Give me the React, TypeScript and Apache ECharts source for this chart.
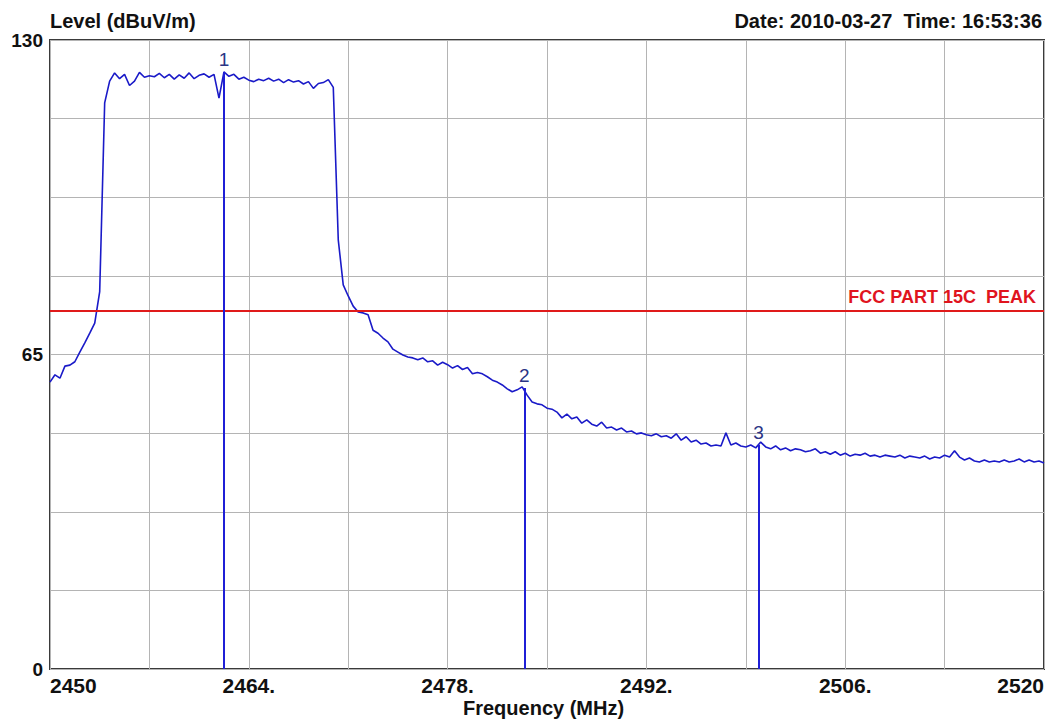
import React, { useEffect, useRef } from "react";
import * as echarts from "echarts";

// Sweep: start frequency and step (MHz) of the measured trace
const freqStart = 2450;
const freqStep = 0.35;

// Measured level (dBuV/m) at each sweep point
const levels: number[] = [
  59.3, 60.8, 60.1, 62.6, 62.8, 63.5, 65.5, 67.4, 69.4, 71.5,
  78.0, 117.0, 121.5, 123.2, 122.0, 122.9, 120.6, 121.5, 123.3, 122.3,
  122.6, 122.4, 123.1, 122.2, 122.9, 121.9, 122.8, 122.1, 123.2, 122.0,
  122.7, 123.0, 122.3, 122.9, 118.0, 123.4, 122.5, 122.9, 121.9, 122.3,
  121.7, 121.4, 121.9, 121.6, 122.1, 121.5, 121.9, 121.2, 121.8, 121.3,
  121.6, 120.9, 121.4, 120.0, 121.0, 121.2, 121.8, 120.2, 88.7, 79.4,
  77.1, 75.0, 73.8, 73.6, 73.2, 70.0, 69.4, 68.4, 67.6, 66.1,
  65.5, 64.9, 64.5, 64.3, 63.9, 64.3, 63.5, 63.7, 62.8, 63.4,
  62.9, 62.2, 62.7, 61.9, 62.3, 61.0, 61.3, 61.0, 60.4, 59.7,
  59.3, 58.7, 57.9, 57.3, 57.7, 58.3, 56.6, 55.2, 54.8, 54.6,
  53.9, 53.7, 53.1, 51.9, 52.7, 51.7, 52.1, 50.8, 51.5, 50.6,
  50.2, 51.0, 49.8, 50.0, 49.4, 49.8, 49.0, 49.2, 48.6, 48.8,
  48.4, 48.2, 48.6, 48.0, 48.2, 47.7, 48.6, 47.3, 48.0, 46.9,
  47.3, 46.5, 46.7, 46.1, 46.3, 46.1, 48.8, 46.3, 46.7, 46.1,
  45.9, 46.3, 45.7, 46.9, 45.9, 45.5, 46.1, 45.3, 45.7, 45.1,
  45.5, 45.3, 44.9, 45.1, 45.5, 44.6, 44.9, 44.4, 44.9, 44.2,
  44.6, 44.0, 44.4, 44.2, 44.6, 44.0, 44.2, 43.8, 44.2, 44.0,
  43.8, 44.2, 43.6, 44.0, 43.8, 43.6, 44.0, 43.4, 43.8, 43.6,
  44.2, 43.8, 45.1, 43.8, 43.2, 43.6, 43.0, 42.8, 43.2, 42.8,
  43.0, 42.8, 43.2, 42.8, 43.0, 43.4, 42.8, 43.2, 42.8, 43.0,
  42.6,
];

// Markers
const markerNames = ["1", "2", "3"];
const markerFreqs = [2462.25, 2483.4, 2499.9];
const markerLevels = [123.4, 58.1, 46.3];

// Limit line
const limitName = "FCC PART 15C  PEAK";
const limitLevel = 74;

// Axes
const xMin = 2450;
const xMax = 2520;
const xGridStep = 7;
const xTickLabels: Record<string, string> = {
  "2450": "2450",
  "2464": "2464.",
  "2478": "2478.",
  "2492": "2492.",
  "2506": "2506.",
  "2520": "2520",
};
const yMin = 0;
const yMax = 130;
const yGridStep = 16.25;
const yTickLabels: Record<string, string> = { "0": "0", "65": "65", "130": "130" };

const titleLeft = "Level (dBuV/m)";
const titleRight = "Date: 2010-03-27  Time: 16:53:36";
const xAxisName = "Frequency (MHz)";

const FONT = "'Liberation Sans', Arial, sans-serif";

export default function App() {
  const ref = useRef<HTMLDivElement>(null);

  useEffect(() => {
    if (!ref.current) return;
    const chart = echarts.init(ref.current, undefined, { renderer: "svg" });

    const trace = levels.map((v, i) => [
      Math.round((freqStart + i * freqStep) * 100) / 100,
      v,
    ]);

    const markerLines: any[] = markerFreqs.map((f, i) => [
      {
        coord: [f, 0],
        name: markerNames[i],
        lineStyle: { color: "#1f1fd6", width: 2, type: "solid" },
        label: {
          show: true,
          position: "end",
          formatter: markerNames[i],
          color: "#2a3585",
          fontFamily: FONT,
          fontSize: 19,
          distance: 3,
        },
      },
      { coord: [f, markerLevels[i]] },
    ]);

    chart.setOption({
      animation: false,
      backgroundColor: "#ffffff",
      grid: {
        left: 50,
        right: 17,
        top: 40,
        bottom: 51,
        show: true,
        borderColor: "#3a3a3a",
        borderWidth: 2,
        backgroundColor: "transparent",
      },
      graphic: [
        {
          type: "text",
          left: 50,
          top: 11,
          style: {
            text: titleLeft,
            font: `bold 20px ${FONT}`,
            fill: "#111",
          },
        },
        {
          type: "text",
          right: 19,
          top: 11,
          style: {
            text: titleRight,
            font: `bold 20px ${FONT}`,
            fill: "#111",
          },
        },
        {
          type: "text",
          left: 463,
          top: 698,
          style: {
            text: xAxisName,
            font: `bold 20px ${FONT}`,
            fill: "#111",
          },
        },
      ],
      xAxis: {
        type: "value",
        min: xMin,
        max: xMax,
        interval: xGridStep,
        axisLine: { show: false },
        axisTick: { show: false },
        splitLine: { show: true, lineStyle: { color: "#b4b4b4", width: 1 } },
        axisLabel: {
          show: true,
          showMinLabel: true,
          showMaxLabel: true,
          alignMinLabel: "left",
          alignMaxLabel: "right",
          margin: 6,
          fontFamily: FONT,
          fontWeight: "bold",
          fontSize: 21,
          color: "#111",
          formatter: (v: number) => xTickLabels[String(Math.round(v))] ?? "",
        },
      },
      yAxis: {
        type: "value",
        min: yMin,
        max: yMax,
        interval: yGridStep,
        axisLine: { show: false },
        axisTick: { show: false },
        splitLine: { show: true, lineStyle: { color: "#b4b4b4", width: 1 } },
        axisLabel: {
          show: true,
          margin: 7,
          fontFamily: FONT,
          fontWeight: "bold",
          fontSize: 19,
          color: "#111",
          formatter: (v: number) => yTickLabels[String(Math.round(v * 100) / 100)] ?? "",
        },
      },
      series: [
        {
          type: "line",
          data: trace,
          showSymbol: false,
          symbol: "none",
          lineStyle: { color: "#1a1ac8", width: 1.6 },
          z: 3,
          markLine: {
            silent: true,
            symbol: ["none", "none"],
            animation: false,
            data: [
              {
                yAxis: limitLevel,
                lineStyle: { color: "#e01a1a", width: 2, type: "solid" },
                label: {
                  show: true,
                  position: "insideEndTop",
                  formatter: limitName,
                  color: "#e0141e",
                  fontFamily: FONT,
                  fontWeight: "bold",
                  fontSize: 18,
                  distance: [8, 5],
                },
              },
              ...markerLines,
            ],
          },
        },
      ],
    });

    return () => chart.dispose();
  }, []);

  return (
    <div
      ref={ref}
      style={{ position: "fixed", left: 0, top: 0, width: 1061, height: 720 }}
    />
  );
}
